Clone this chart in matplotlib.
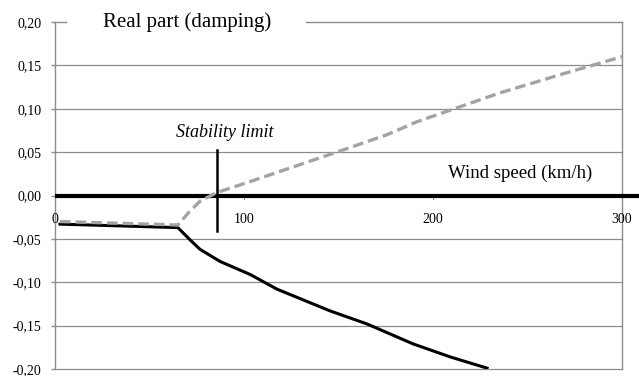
import matplotlib
matplotlib.use("Agg")
import matplotlib.pyplot as plt

# ---- data ----
black_x = [2.6, 65, 71.4, 76.7, 87.3, 103.2, 117.5, 145.5, 165, 189.4, 209, 228.6]
black_y = [-0.033, -0.037, -0.051, -0.062, -0.076, -0.091, -0.108, -0.133, -0.148, -0.171, -0.186, -0.199]
gray_x = [2.6, 65, 71, 76.7, 85.7, 103.2, 129.6, 156, 175.7, 191.5, 235, 270, 300]
gray_y = [-0.030, -0.034, -0.019, -0.0066, 0.0035, 0.016, 0.0356, 0.0552, 0.0701, 0.085, 0.118, 0.141, 0.160]
stability_x = 85.5
stability_span = [-0.041, 0.052]
yticks = [-0.20, -0.15, -0.10, -0.05, 0.00, 0.05, 0.10, 0.15, 0.20]
xticks = [0, 100, 200, 300]
title = "Real part (damping)"
xlabel = "Wind speed (km/h)"
stab_label = "Stability limit"

plt.rcParams['font.family'] = ['Liberation Serif', 'DejaVu Serif']

fig = plt.figure(figsize=(6.39, 3.76), dpi=100)
ax = fig.add_axes([0.0861, 0.0186, 0.9734 - 0.0861, 0.9415 - 0.0186])
ax.set_xlim(0, 300)
ax.set_ylim(-0.20, 0.20)

grid_c = '#8c8c8c'
for s in ['top', 'bottom']:
    ax.spines[s].set_visible(False)
for s in ['left', 'right']:
    ax.spines[s].set_color(grid_c)
    ax.spines[s].set_linewidth(1.0)

# gridlines
for y in yticks:
    if y == yticks[-1]:
        ax.plot([0, 5.8], [y, y], color=grid_c, lw=1.0, clip_on=False, zorder=1)
        ax.plot([133, 300], [y, y], color=grid_c, lw=1.0, clip_on=False, zorder=1)
    else:
        ax.axhline(y, color=grid_c, lw=0.9, zorder=1, clip_on=False)

ax.set_yticks(yticks)
ax.set_yticklabels([("%.2f" % v).replace('.', ',') for v in yticks], fontsize=10)
ax.tick_params(axis='y', length=3, width=1, color=grid_c, pad=7)
ax.set_xticks([])

# zero axis line extending beyond the plot
ax.plot([0, 309], [0, 0], color='black', lw=3, clip_on=False, zorder=3, solid_capstyle='butt')

# x tick labels just below zero line
for xv in xticks:
    ax.text(xv, -0.028, str(xv), ha='center', va='center', fontsize=10, zorder=5)
    if xv > 0:
        ax.plot([xv, xv], [0, -0.004], color=grid_c, lw=0.8, zorder=2, clip_on=False)

# curves
ax.plot(black_x, black_y, color='black', lw=2.2, zorder=4, clip_on=True)
ax.plot(gray_x, gray_y, color='#a3a3a3', lw=2.4, dashes=(3.2, 1.5), zorder=5, clip_on=False)

# stability limit
ax.plot([stability_x, stability_x], stability_span, color='black', lw=1.8, zorder=4)
ax.text(90, 0.073, stab_label, ha='center', va='center', fontsize=13, style='italic')

ax.text(246, 0.026, xlabel, ha='center', va='center', fontsize=13.5)
ax.text(70, 0.200, title, ha='center', va='center', fontsize=15)

fig.savefig('out.png', dpi=100)
